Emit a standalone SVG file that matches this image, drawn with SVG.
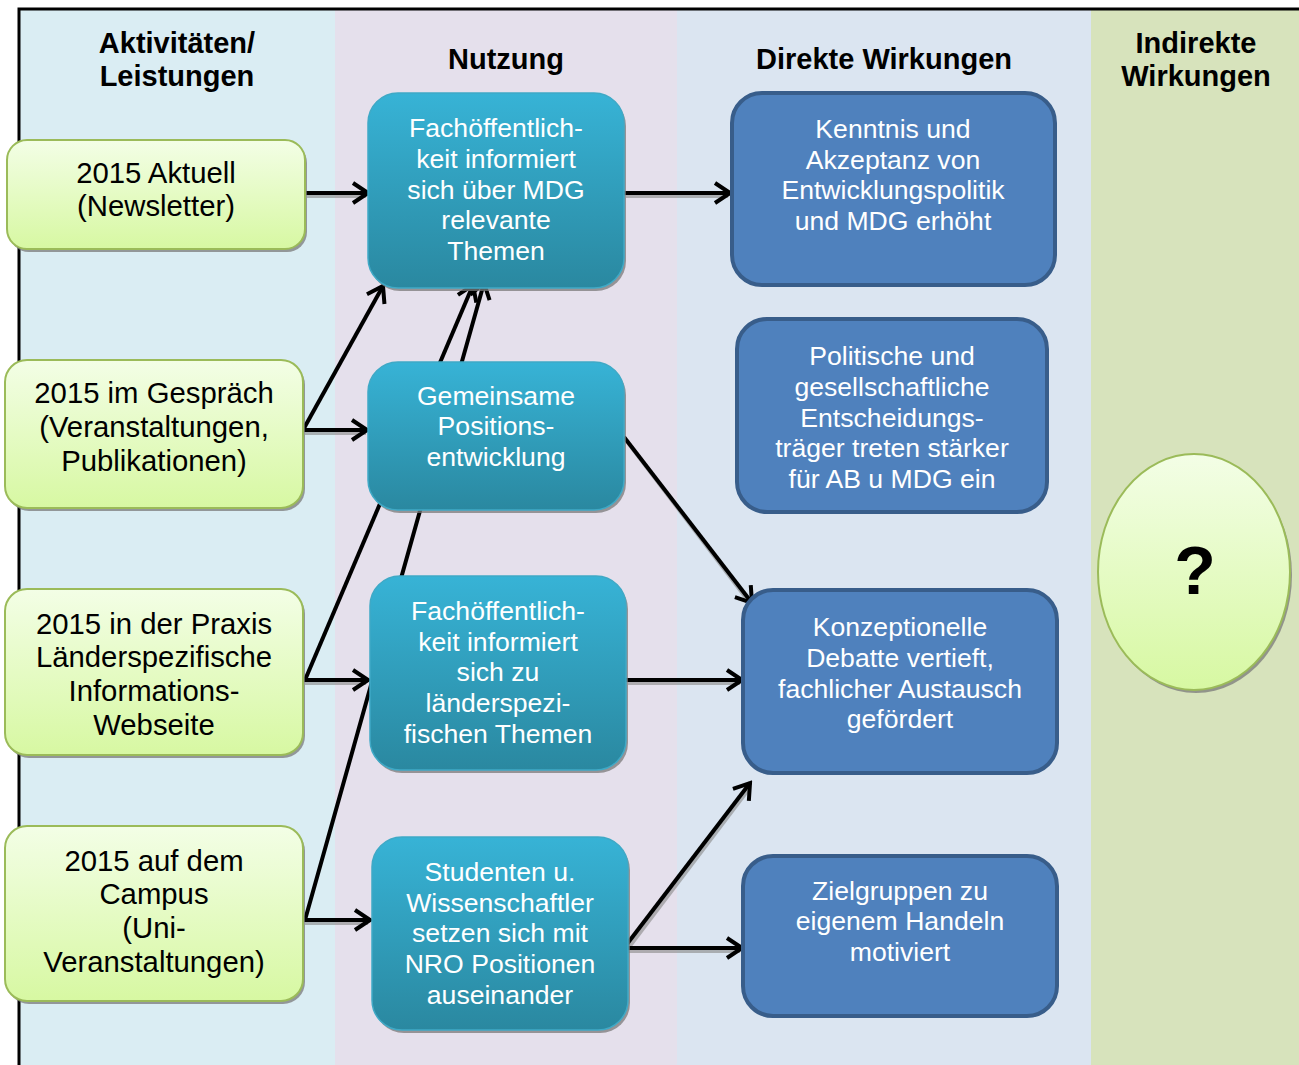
<svg xmlns="http://www.w3.org/2000/svg" width="1299" height="1065" viewBox="0 0 1299 1065">
<defs>
<linearGradient id="gGreen" x1="0" y1="0" x2="0" y2="1"><stop offset="0" stop-color="#F3FEE6"/><stop offset="1" stop-color="#D7F8A2"/></linearGradient>
<linearGradient id="gTeal" x1="0" y1="0" x2="0" y2="1"><stop offset="0" stop-color="#37B3D6"/><stop offset="1" stop-color="#2A88A0"/></linearGradient>
<marker id="arr" markerUnits="userSpaceOnUse" viewBox="0 0 20 24" markerWidth="20" markerHeight="24" refX="17" refY="12" orient="auto"><path d="M2,2 L17,12 L2,22" fill="none" stroke="#000" stroke-width="4" stroke-linejoin="miter"/></marker>
<style>
.hd{font-family:"Liberation Sans",Arial,sans-serif;font-weight:bold;font-size:29px;fill:#000;text-anchor:middle}
.gt{font-family:"Liberation Sans",Arial,sans-serif;font-size:29.3px;fill:#000;text-anchor:middle}
.wt{font-family:"Liberation Sans",Arial,sans-serif;font-size:26.6px;fill:#fff;text-anchor:middle}
.green{fill:url(#gGreen);stroke:#9BBB59;stroke-width:2}
.teal{fill:url(#gTeal);stroke:#3FA9C6;stroke-width:1.5}
.blue{fill:#4F81BD;stroke:#385D8A;stroke-width:4}
.shd{fill:#7a7a7a;opacity:0.75}
.con line{stroke:#000;stroke-width:4;marker-end:url(#arr)}
.sh line{stroke:#888;stroke-width:4;opacity:0.6}
</style>
</defs>
<rect x="0" y="0" width="1299" height="1065" fill="#fff"/>
<rect x="19" y="9" width="316" height="1056" fill="#DAEDF3"/>
<rect x="335" y="9" width="342" height="1056" fill="#E5E0EC"/>
<rect x="677" y="9" width="414" height="1056" fill="#DBE5F1"/>
<rect x="1091" y="9" width="208" height="1056" fill="#D7E3BC"/>
<path d="M19,1065 L19,9 L1299,9" fill="none" stroke="#000" stroke-width="3"/>
<g id="headings">
<text class="hd" x="177" y="53">Aktivitäten/</text>
<text class="hd" x="177" y="86">Leistungen</text>
<text class="hd" x="506" y="69">Nutzung</text>
<text class="hd" x="884" y="69">Direkte Wirkungen</text>
<text class="hd" x="1196" y="53">Indirekte</text>
<text class="hd" x="1196" y="86">Wirkungen</text>
</g>
<g id="connectors">
<g class="sh" transform="translate(2,3)">
<line x1="305" y1="193" x2="364" y2="193"/>
<line x1="624" y1="193" x2="726" y2="193"/>
<line x1="303" y1="430" x2="364" y2="430"/>
<line x1="303" y1="680" x2="364" y2="680"/>
<line x1="303" y1="920" x2="366" y2="920"/>
<line x1="626" y1="680" x2="738" y2="680"/>
<line x1="624" y1="948" x2="738" y2="948"/>
<line x1="624" y1="437" x2="748" y2="600"/>
<line x1="624" y1="948" x2="746" y2="787"/>
</g>
<g class="con">
<line x1="305" y1="193" x2="368" y2="193"/>
<line x1="624" y1="193" x2="730" y2="193"/>
<line x1="303" y1="430" x2="367" y2="430"/>
<line x1="303" y1="430" x2="383" y2="286"/>
<line x1="305" y1="680" x2="473" y2="285"/>
<line x1="305" y1="920" x2="484" y2="283"/>
<line x1="303" y1="680" x2="368" y2="680"/>
<line x1="303" y1="920" x2="370" y2="920"/>
<line x1="624" y1="437" x2="752" y2="603"/>
<line x1="626" y1="680" x2="742" y2="680"/>
<line x1="624" y1="948" x2="742" y2="948"/>
<line x1="624" y1="948" x2="750" y2="783"/>
</g>
</g>
<g id="a1"><rect class="shd" x="9" y="143" width="298" height="109" rx="20"/><rect class="green" x="7" y="140" width="298" height="109" rx="20"/>
<text class="gt" x="156" y="183">2015 Aktuell</text><text class="gt" x="156" y="216">(Newsletter)</text></g>
<g id="a2"><rect class="shd" x="7" y="363" width="298" height="148" rx="22"/><rect class="green" x="5" y="360" width="298" height="148" rx="22"/>
<text class="gt" x="154" y="403">2015 im Gespräch</text><text class="gt" x="154" y="437">(Veranstaltungen,</text><text class="gt" x="154" y="471">Publikationen)</text></g>
<g id="a3"><rect class="shd" x="7" y="592" width="298" height="166" rx="22"/><rect class="green" x="5" y="589" width="298" height="166" rx="22"/>
<text class="gt" x="154" y="634">2015 in der Praxis</text><text class="gt" x="154" y="667">Länderspezifische</text><text class="gt" x="154" y="701">Informations-</text><text class="gt" x="154" y="735">Webseite</text></g>
<g id="a4"><rect class="shd" x="7" y="829" width="298" height="175" rx="22"/><rect class="green" x="5" y="826" width="298" height="175" rx="22"/>
<text class="gt" x="154" y="871">2015 auf dem</text><text class="gt" x="154" y="904">Campus</text><text class="gt" x="154" y="938">(Uni-</text><text class="gt" x="154" y="972">Veranstaltungen)</text></g>
<g id="n1"><rect class="shd" x="370" y="96" width="256" height="195" rx="30"/><rect class="teal" x="368" y="93" width="256" height="195" rx="30"/>
<text class="wt" x="496" y="137">Fachöffentlich-</text><text class="wt" x="496" y="168">keit informiert</text><text class="wt" x="496" y="199">sich über MDG</text><text class="wt" x="496" y="229">relevante</text><text class="wt" x="496" y="260">Themen</text></g>
<g id="n2"><rect class="shd" x="370" y="365" width="256" height="148" rx="30"/><rect class="teal" x="368" y="362" width="256" height="148" rx="30"/>
<text class="wt" x="496" y="405">Gemeinsame</text><text class="wt" x="496" y="435">Positions-</text><text class="wt" x="496" y="466">entwicklung</text></g>
<g id="n3"><rect class="shd" x="372" y="579" width="256" height="194" rx="30"/><rect class="teal" x="370" y="576" width="256" height="194" rx="30"/>
<text class="wt" x="498" y="620">Fachöffentlich-</text><text class="wt" x="498" y="651">keit informiert</text><text class="wt" x="498" y="681">sich zu</text><text class="wt" x="498" y="712">länderspezi-</text><text class="wt" x="498" y="743">fischen Themen</text></g>
<g id="n4"><rect class="shd" x="374" y="840" width="256" height="193" rx="30"/><rect class="teal" x="372" y="837" width="256" height="193" rx="30"/>
<text class="wt" x="500" y="881">Studenten u.</text><text class="wt" x="500" y="912">Wissenschaftler</text><text class="wt" x="500" y="942">setzen sich mit</text><text class="wt" x="500" y="973">NRO Positionen</text><text class="wt" x="500" y="1004">auseinander</text></g>
<g id="d1"><rect class="blue" x="732" y="93" width="323" height="192" rx="30"/>
<text class="wt" x="893" y="138">Kenntnis und</text><text class="wt" x="893" y="169">Akzeptanz von</text><text class="wt" x="893" y="199">Entwicklungspolitik</text><text class="wt" x="893" y="230">und MDG erhöht</text></g>
<g id="d2"><rect class="blue" x="737" y="319" width="310" height="193" rx="30"/>
<text class="wt" x="892" y="365">Politische und</text><text class="wt" x="892" y="396">gesellschaftliche</text><text class="wt" x="892" y="427">Entscheidungs-</text><text class="wt" x="892" y="457">träger treten stärker</text><text class="wt" x="892" y="488">für AB u MDG ein</text></g>
<g id="d3"><rect class="blue" x="743" y="590" width="314" height="183" rx="30"/>
<text class="wt" x="900" y="636">Konzeptionelle</text><text class="wt" x="900" y="667">Debatte vertieft,</text><text class="wt" x="900" y="698">fachlicher Austausch</text><text class="wt" x="900" y="728">gefördert</text></g>
<g id="d4"><rect class="blue" x="743" y="856" width="314" height="160" rx="30"/>
<text class="wt" x="900" y="900">Zielgruppen zu</text><text class="wt" x="900" y="930">eigenem Handeln</text><text class="wt" x="900" y="961">motiviert</text></g>
<g id="i1"><ellipse class="shd" cx="1196" cy="575" rx="96" ry="118"/><ellipse class="green" cx="1194" cy="572" rx="96" ry="118"/>
<text x="1195" y="594" text-anchor="middle" font-family="Liberation Sans, Arial, sans-serif" font-weight="bold" font-size="68" fill="#000">?</text></g>
</svg>
